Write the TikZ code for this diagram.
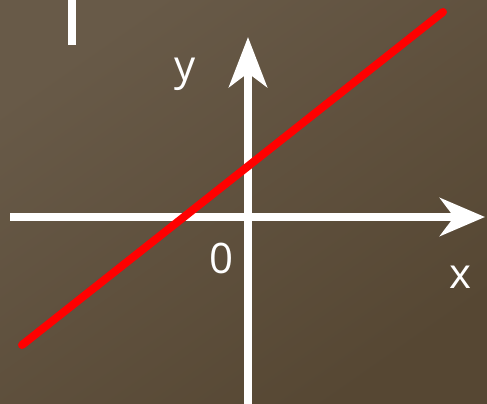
\documentclass[tikz,border=0pt]{standalone}
\usepackage{fontspec}
\setmainfont{Open Sans}
\usepackage{xcolor}
\definecolor{bgtop}{RGB}{104,90,72}
\definecolor{bgbottom}{RGB}{86,71,51}
\definecolor{graphred}{RGB}{255,0,0}
\usetikzlibrary{arrows.meta,calc}

\begin{document}
\begin{tikzpicture}[x=1pt,y=-1pt,
        axis/.style={line width=8pt, white, -{Stealth[length=#1,width=38pt,inset=14pt]}},
        graph/.style={line width=8pt, graphred, line cap=round},
        label/.style={text=white, inner sep=0pt, font=\fontsize{42}{42}\selectfont}
    ]
        % background
        \shade[top color=bgtop, bottom color=bgbottom, shading angle=35] (0,0) rectangle (487,404);
        \useasboundingbox (0,0) rectangle (487,404);

        \fill[white] (68,0) rectangle (76,45);

        \coordinate (xstart) at (10,217);
        \coordinate (xend) at (485,217);
        \coordinate (ystart) at (248,410);
        \coordinate (yend) at (248,37);
        \coordinate (lstart) at (22,345);
        \coordinate (lend) at (443,12);

        \draw[axis=45pt] (xstart) -- (xend);
        \draw[axis=50pt] (ystart) -- (yend);
        \draw[graph] (lstart) -- (lend);

        \node[label] (ylab) at (185,74) {y};
        \node[label] (origin) at (222,258) {0};
        \node[label] (xlab) at (460,277) {x};
    \end{tikzpicture}
\end{document}
